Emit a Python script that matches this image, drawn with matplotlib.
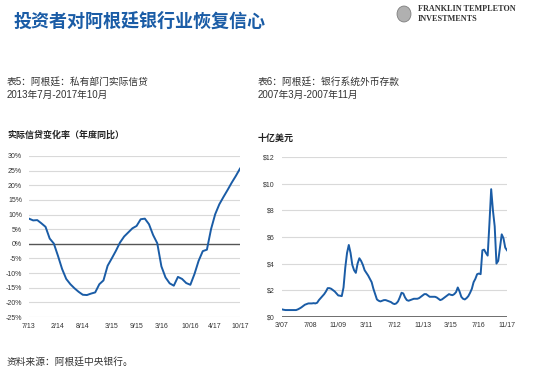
import numpy as np
import matplotlib.pyplot as plt
from matplotlib.patches import Ellipse

# 表5: 私有部门实际信贷 (年度同比, %), 2013年7月 - 2017年10月, 月度
credit = [8.6, 8.0, 8.1, 7.0, 5.8, 1.8, 0.1, -4.1, -8.6, -12.0,
          -13.8, -15.2, -16.4, -17.4, -17.5, -17.0, -16.6, -13.8, -12.5, -7.5,
          -5.0, -2.4, 0.45, 2.5, 3.9, 5.3, 6.1, 8.4, 8.6, 6.7,
          3.0, 0.2, -7.7, -11.5, -13.5, -14.3, -11.3, -12.0, -13.4, -14.0,
          -10.3, -5.8, -2.5, -2.0, 5.0, 10.1, 13.5, 16.0, 18.4, 20.9,
          23.2, 25.7]
credit_ticks = [0, 7, 13, 20, 26, 32, 39, 45, 51]
credit_labels = ["7/13", "2/14", "8/14", "3/15", "9/15", "3/16", "10/16", "4/17", "10/17"]
credit_yticks = [30, 25, 20, 15, 10, 5, 0, -5, -10, -15, -20, -25]

# 表6: 银行系统外币存款 (十亿美元), 2007年3月 - 2017年11月, 月度
deposits = [0.55, 0.52, 0.5, 0.5, 0.5, 0.5, 0.5, 0.5, 0.5, 0.55,
            0.62, 0.7, 0.8, 0.9, 0.95, 1.0, 1.0, 1.0, 1.02, 1.0,
            1.05, 1.25, 1.4, 1.55, 1.7, 1.9, 2.15, 2.15, 2.1, 2.0,
            1.9, 1.75, 1.6, 1.58, 1.55, 2.2, 3.7, 4.8, 5.4, 4.8,
            3.9, 3.5, 3.3, 4.0, 4.4, 4.2, 3.9, 3.5, 3.3, 3.1,
            2.85, 2.6, 2.1, 1.7, 1.3, 1.2, 1.15, 1.2, 1.25, 1.25,
            1.2, 1.15, 1.1, 1.0, 0.95, 1.0, 1.15, 1.45, 1.8, 1.75,
            1.45, 1.25, 1.2, 1.25, 1.3, 1.35, 1.35, 1.35, 1.4, 1.5,
            1.6, 1.7, 1.7, 1.6, 1.5, 1.5, 1.5, 1.5, 1.45, 1.35,
            1.25, 1.3, 1.4, 1.5, 1.6, 1.7, 1.65, 1.62, 1.7, 1.85,
            2.2, 1.9, 1.5, 1.35, 1.3, 1.4, 1.55, 1.8, 2.1, 2.6,
            2.85, 3.2, 3.25, 3.2, 5.0, 5.05, 4.8, 4.6, 7.0, 9.6,
            8.0, 6.8, 4.0, 4.2, 5.2, 6.2, 5.9, 5.2, 5.0]
dep_ticks = [0, 16, 32, 48, 64, 80, 96, 112, 128]
dep_labels = ["3/07", "7/08", "11/09", "3/11", "7/12", "11/13", "3/15", "7/16", "11/17"]
dep_yticks = [0, 2, 4, 6, 8, 10, 12]

blue = "#1a5ca6"
grid = "#d9d9d9"
txt = "#333333"
fam = ["Liberation Sans", "Noto Sans CJK SC"]

plt.rcParams["font.family"] = fam

fig = plt.figure(figsize=(5.5, 3.77), dpi=100)

# 标题和 logo
fig.text(14 / 550, 1 - 21 / 377, "投资者对阿根廷银行业恢复信心", fontsize=13, fontweight="bold",
         color=blue, va="center", family=["Noto Sans CJK SC"])
fig.patches.append(Ellipse((404 / 550, 1 - 14 / 377), 14 / 550, 16 / 377, transform=fig.transFigure,
                           facecolor="#b0b0b0", edgecolor="#707070", lw=0.5))
fig.text(418 / 550, 1 - 9 / 377, "FRANKLIN TEMPLETON", fontsize=5.9, family="Liberation Serif",
         fontweight="bold", color="#333333", va="center")
fig.text(418 / 550, 1 - 19 / 377, "INVESTMENTS", fontsize=5.9, family="Liberation Serif",
         fontweight="bold", color="#333333", va="center")

# 副标题
fig.text(7 / 550, 1 - 82 / 377, "表5：阿根廷：私有部门实际信贷", fontsize=7, color=txt, va="center")
fig.text(7 / 550, 1 - 95 / 377, "2013年7月-2017年10月", fontsize=7, color=txt, va="center")
fig.text(7 / 550, 1 - 135 / 377, "实际信贷变化率（年度同比）", fontsize=6.5, fontweight="bold", color="#222222", va="center")

fig.text(258 / 550, 1 - 82 / 377, "表6：阿根廷：银行系统外币存款", fontsize=7, color=txt, va="center")
fig.text(258 / 550, 1 - 95 / 377, "2007年3月-2007年11月", fontsize=7, color=txt, va="center")
fig.text(258 / 550, 1 - 138 / 377, "十亿美元", fontsize=6.5, fontweight="bold", color="#222222", va="center")

fig.text(7 / 550, 1 - 362 / 377, "资料来源：阿根廷中央银行。", fontsize=7, color=txt, va="center")

# 左图
ax1 = fig.add_axes([29 / 550, 1 - 317 / 377, 211 / 550, 161 / 377])
x1 = np.arange(len(credit))
for v in credit_yticks:
    ax1.axhline(v, color="#555555" if v == 0 else grid, lw=1.0 if v == 0 else 0.8, zorder=1)
ax1.plot(x1, credit, color=blue, lw=1.4, zorder=3)
ax1.set_xlim(0, len(credit) - 1)
ax1.set_ylim(-25, 30)
ax1.set_yticks(credit_yticks)
ax1.set_yticklabels([f"{v}%" for v in credit_yticks])
ax1.set_xticks(credit_ticks)
ax1.set_xticklabels(credit_labels)

# 右图
ax2 = fig.add_axes([282 / 550, 1 - 316.7 / 377, 225 / 550, 159.4 / 377])
x2 = np.arange(len(deposits))
for v in dep_yticks:
    ax2.axhline(v, color="#555555" if v == 0 else grid, lw=1.2 if v == 0 else 0.8, zorder=1)
ax2.plot(x2, deposits, color=blue, lw=1.4, zorder=3)
ax2.set_xlim(0, len(deposits) - 1)
ax2.set_ylim(0, 12)
ax2.set_yticks(dep_yticks)
ax2.set_yticklabels([f"${v}" for v in dep_yticks])
ax2.set_xticks(dep_ticks)
ax2.set_xticklabels(dep_labels)

for ax in (ax1, ax2):
    for s in ax.spines.values():
        s.set_visible(False)
    ax.tick_params(length=0, labelsize=5, labelcolor=txt)
    ax.tick_params(axis="y", pad=5)
    ax.tick_params(axis="x", pad=4)

fig.savefig("out.png", dpi=100)
